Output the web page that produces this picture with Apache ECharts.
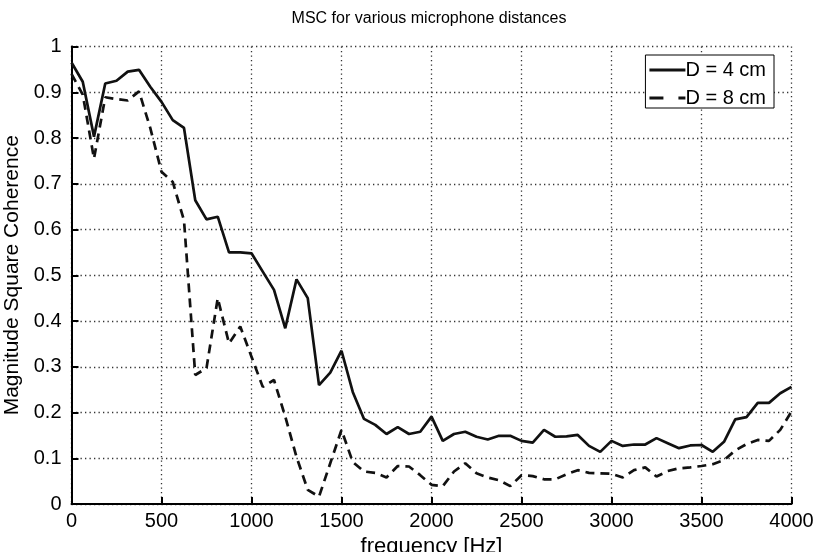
<!DOCTYPE html>
<html>
<head>
<meta charset="utf-8">
<script src="https://cdn.jsdelivr.net/npm/echarts@6/dist/echarts.min.js"></script>
<style>
html,body{margin:0;padding:0;background:#fff;}
#c{width:814px;height:552px;}
</style>
</head>
<body>
<div id="c"></div>
<script>
var frequencies = [0,62.5,125,187.5,250,312.5,375,437.5,500,562.5,625,687.5,750,812.5,875,937.5,1000,1062.5,1125,1187.5,1250,1312.5,1375,1437.5,1500,1562.5,1625,1687.5,1750,1812.5,1875,1937.5,2000,2062.5,2125,2187.5,2250,2312.5,2375,2437.5,2500,2562.5,2625,2687.5,2750,2812.5,2875,2937.5,3000,3062.5,3125,3187.5,3250,3312.5,3375,3437.5,3500,3562.5,3625,3687.5,3750,3812.5,3875,3937.5,4000];
var msc4cm = [0.965,0.923,0.803,0.919,0.925,0.945,0.949,0.912,0.879,0.839,0.822,0.664,0.622,0.628,0.550,0.550,0.548,0.508,0.468,0.384,0.491,0.450,0.260,0.287,0.335,0.245,0.186,0.173,0.153,0.168,0.153,0.158,0.191,0.138,0.153,0.158,0.147,0.141,0.149,0.149,0.138,0.134,0.162,0.147,0.148,0.151,0.127,0.114,0.138,0.127,0.130,0.130,0.144,0.133,0.122,0.128,0.129,0.114,0.136,0.185,0.190,0.221,0.221,0.242,0.256];
var msc8cm = [0.940,0.895,0.755,0.889,0.885,0.882,0.902,0.822,0.726,0.704,0.620,0.282,0.297,0.450,0.351,0.388,0.322,0.256,0.271,0.191,0.103,0.031,0.016,0.089,0.162,0.092,0.071,0.068,0.058,0.083,0.082,0.063,0.042,0.039,0.071,0.089,0.067,0.058,0.052,0.039,0.063,0.061,0.054,0.054,0.065,0.074,0.068,0.067,0.066,0.058,0.074,0.080,0.060,0.072,0.078,0.080,0.083,0.087,0.096,0.117,0.131,0.140,0.138,0.162,0.202];
var seriesNames = ['D = 4 cm','D = 8 cm'];
var titleText = 'MSC for various microphone distances';
var xName = 'frequency [Hz]';
var yName = 'Magnitude Square Coherence';

function pairs(xs, ys){ return xs.map(function(x,i){ return [x, ys[i]]; }); }

var FONT = '"Liberation Sans", Arial, sans-serif';
var chart = echarts.init(document.getElementById('c'));
chart.setOption({
  backgroundColor:'#fff',
  animation:false,
  title:{text:titleText,left:424,textAlign:'center',top:6,
    textStyle:{fontFamily:FONT,fontSize:16,fontWeight:'normal',color:'#000'}},
  grid:{left:71.5,right:22.5,top:46.5,bottom:48,containLabel:false,outerBoundsMode:'none'},
  legend:{
    orient:'vertical',right:40,top:55,
    data:[
      {name:seriesNames[0],icon:'path://M0,0h36v3.2h-36z'},
      {name:seriesNames[1],icon:'path://M0,0h14v3.2h-14z M29,0h7v3.2h-7z'}
    ],
    itemWidth:36,itemHeight:14,itemGap:8,symbolKeepAspect:true,
    itemStyle:{color:'#111'},
    borderColor:'#000',borderWidth:1,backgroundColor:'#fff',
    padding:[5,8,0,4],
    textStyle:{fontFamily:FONT,fontSize:20,color:'#000',padding:[0,0,0,-5]}
  },
  xAxis:{type:'value',min:0,max:4000,interval:500,
    name:xName,nameLocation:'middle',nameGap:30,
    nameTextStyle:{fontFamily:FONT,fontSize:22,color:'#000'},
    axisLine:{show:true,lineStyle:{color:'#000',width:2}},
    axisTick:{show:true,inside:true,length:7,lineStyle:{color:'#000',width:2}},
    axisLabel:{fontFamily:FONT,fontSize:20,color:'#000',margin:7,
      formatter:function(v){ return String(v); }},
    splitLine:{show:true,lineStyle:{color:'#333',width:1.3,type:[1.3,3.2]}}
  },
  yAxis:{type:'value',min:0,max:1,interval:0.1,
    name:yName,nameLocation:'middle',nameGap:47,
    nameTextStyle:{fontFamily:FONT,fontSize:21,color:'#000'},
    axisLine:{show:true,lineStyle:{color:'#000',width:2}},
    axisTick:{show:true,inside:true,length:7,lineStyle:{color:'#000',width:2}},
    axisLabel:{fontFamily:FONT,fontSize:20,color:'#000',margin:10,
      formatter:function(v){ return (Math.round(v*10)/10).toString(); }},
    splitLine:{show:true,lineStyle:{color:'#333',width:1.3,type:[1.3,3.2]}}
  },
  series:[
    {name:seriesNames[0],type:'line',data:pairs(frequencies,msc4cm),symbol:'none',
     lineStyle:{color:'#111',width:2.7,type:'solid'},itemStyle:{color:'#111'}},
    {name:seriesNames[1],type:'line',data:pairs(frequencies,msc8cm),symbol:'none',
     lineStyle:{color:'#111',width:2.7,type:[9,6]},itemStyle:{color:'#111'}}
  ]
});
</script>
</body>
</html>
